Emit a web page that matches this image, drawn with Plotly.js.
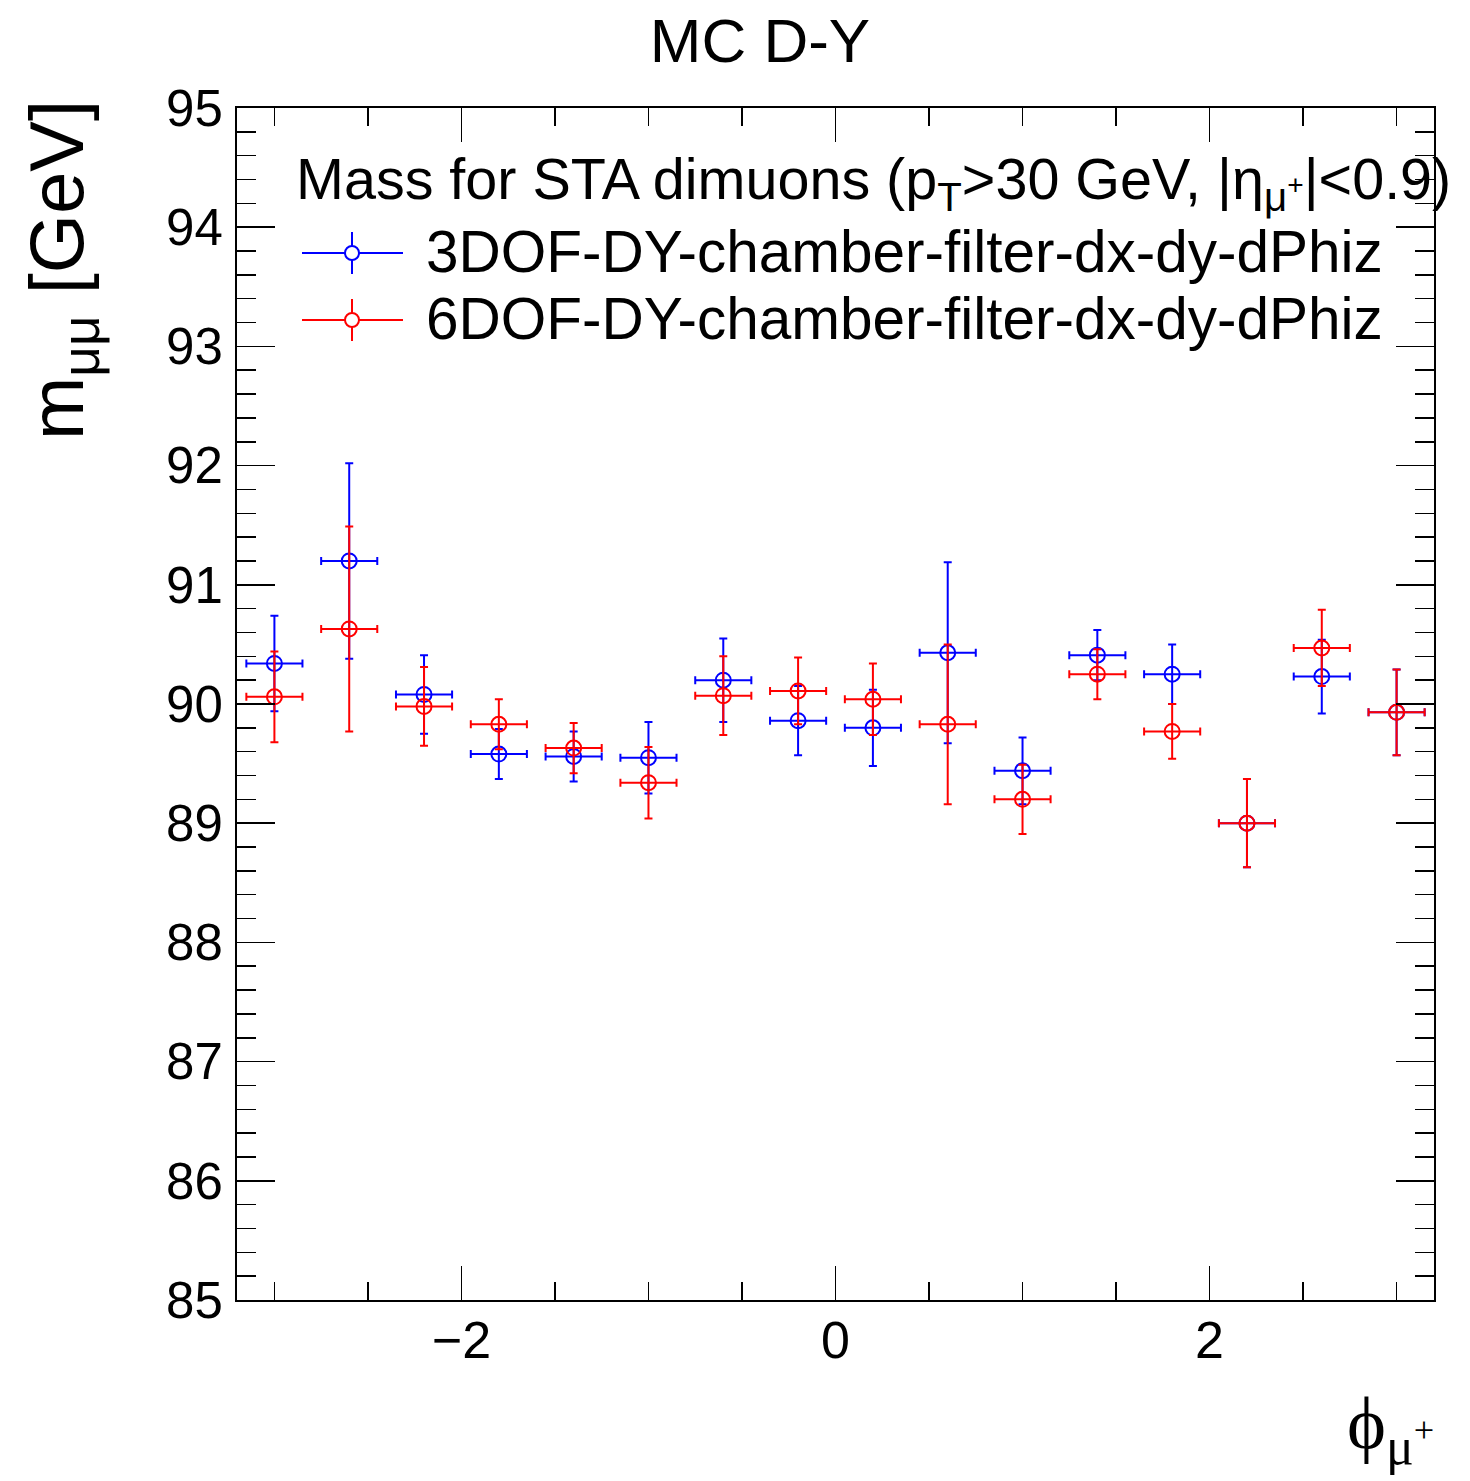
<!DOCTYPE html>
<html>
<head>
<meta charset="utf-8">
<script src="https://cdn.plot.ly/plotly-3.0.1.min.js"></script>
<style>html,body{margin:0;padding:0;background:#fff;}</style>
</head>
<body>
<div id="chart" style="width:1470px;height:1481px;"></div>
<script>
// phi bin centres
const phi = [-3.0,-2.6,-2.2,-1.8,-1.4,-1.0,-0.6,-0.2,0.2,0.6,1.0,1.4,1.8,2.2,2.6,3.0];
const phiErr = [0.15,0.15,0.15,0.15,0.15,0.15,0.15,0.15,0.15,0.15,0.15,0.15,0.15,0.15,0.15,0.15];
// 3DOF series
const mass3dof = [90.34,91.20,90.08,89.58,89.56,89.55,90.20,89.86,89.80,90.43,89.44,90.41,90.25,89.00,90.23,89.93];
const err3dof  = [0.40,0.82,0.33,0.21,0.21,0.30,0.35,0.29,0.32,0.76,0.28,0.21,0.25,0.37,0.31,0.36];
// 6DOF series
const mass6dof = [90.06,90.63,89.98,89.83,89.63,89.34,90.07,90.11,90.04,89.83,89.20,90.25,89.77,89.00,90.47,89.93];
const err6dof  = [0.38,0.86,0.33,0.21,0.21,0.30,0.33,0.28,0.30,0.67,0.29,0.21,0.23,0.37,0.32,0.36];
const seriesNames = ["3DOF-DY-chamber-filter-dx-dy-dPhiz","6DOF-DY-chamber-filter-dx-dy-dPhiz"];
const yTicks = [85,86,87,88,89,90,91,92,93,94,95];
const xTicks = [-2,0,2];

const FONT = "Liberation Sans, Arial, Helvetica, sans-serif";
const BLUE = "#0000ff", RED = "#ff0000";

function series(y, e, color, name) {
  return {
    type: "scatter", mode: "markers", x: phi, y: y, name: name, showlegend: false,
    marker: {symbol: "circle-open", size: 15, color: color, line: {width: 2, color: color}},
    error_y: {type: "data", array: e, visible: true, color: color, thickness: 2, width: 4},
    error_x: {type: "data", array: phiErr, visible: true, color: color, thickness: 2, width: 4},
    cliponaxis: false
  };
}

const data = [
  series(mass3dof, err3dof, BLUE, seriesNames[0]),
  series(mass6dof, err6dof, RED, seriesNames[1])
];

// manual legend (ROOT style)
const W = 1197, H = 1192, L = 237, B = 1300;
const px = v => (v - L) / W;
const py = v => (B - v) / H;
const legRows = [253, 320];
const legColors = [BLUE, RED];
const shapes = [];
const annotations = [];
legRows.forEach((r, i) => {
  shapes.push({type: "line", xref: "paper", yref: "paper", x0: px(302), x1: px(403), y0: py(r), y1: py(r), line: {color: legColors[i], width: 2}});
  shapes.push({type: "line", xref: "paper", yref: "paper", x0: px(352), x1: px(352), y0: py(r - 21), y1: py(r + 21), line: {color: legColors[i], width: 2}});
  shapes.push({type: "circle", xref: "paper", yref: "paper", xsizemode: "pixel", ysizemode: "pixel",
    xanchor: px(352), yanchor: py(r), x0: -7, x1: 7, y0: -7, y1: 7,
    fillcolor: "white", line: {color: legColors[i], width: 2}});
  annotations.push({xref: "paper", yref: "paper", x: px(424), y: py(r - 2), xanchor: "left", yanchor: "middle",
    text: seriesNames[i], showarrow: false, font: {family: FONT, size: 58.5, color: "black"}});
});
annotations.push({xref: "paper", yref: "paper", x: px(294), y: py(184), xanchor: "left", yanchor: "middle",
  text: "Mass for STA dimuons (p<sub>T</sub>>30 GeV, |η<sub>μ<sup>+</sup></sub>|<0.9)",
  showarrow: false, font: {family: FONT, size: 57.5, color: "black"}});
// axis titles
annotations.push({xref: "paper", yref: "paper", x: px(1436), y: py(1428), xanchor: "right", yanchor: "middle",
  text: "\u03D5<sub>μ<sup>+</sup></sub>", showarrow: false, font: {family: "Liberation Serif, DejaVu Serif, Times New Roman, serif", size: 74, color: "black"}});
annotations.push({xref: "paper", yref: "paper", x: px(62), y: py(98), xanchor: "center", yanchor: "top",
  textangle: -90, text: "m<sub>μμ</sub> [GeV]", showarrow: false, font: {family: FONT, size: 76, color: "black"}});

const layout = {
  width: 1470, height: 1481,
  margin: {l: 237, r: 36, t: 108, b: 181, pad: 0},
  paper_bgcolor: "white", plot_bgcolor: "white",
  font: {family: FONT, color: "black"},
  title: {text: "MC D-Y", x: 760/1470, xref: "container", xanchor: "center", y: 1 - 40/1481, yref: "container", yanchor: "middle",
    font: {family: FONT, size: 62, color: "black"}},
  showlegend: false,
  xaxis: {
    range: [-3.2, 3.2], showgrid: false, zeroline: false,
    showline: true, linecolor: "black", linewidth: 2, mirror: "allticks",
    ticks: "inside", ticklen: 34, tickwidth: 1.5, tickcolor: "black",
    tickmode: "array", tickvals: xTicks, ticktext: xTicks.map(v => v < 0 ? "\u2212" + Math.abs(v) : String(v)),
    minor: {dtick: 0.5, tick0: 0, ticks: "inside", ticklen: 18, tickwidth: 1.5, tickcolor: "black", showgrid: false},
    tickfont: {family: FONT, size: 52, color: "black"}, ticklabelstandoff: -6
  },
  yaxis: {
    range: [85, 95], showgrid: false, zeroline: false,
    showline: true, linecolor: "black", linewidth: 2, mirror: "allticks",
    ticks: "inside", ticklen: 38, tickwidth: 1.5, tickcolor: "black",
    tickmode: "array", tickvals: yTicks, ticktext: yTicks.map(String),
    minor: {dtick: 0.2, tick0: 85, ticks: "inside", ticklen: 19, tickwidth: 1.5, tickcolor: "black", showgrid: false},
    tickfont: {family: FONT, size: 51, color: "black"}, ticklabelstandoff: 2
  },
  shapes: shapes,
  annotations: annotations
};

Plotly.newPlot("chart", data, layout, {staticPlot: true, displayModeBar: false});
</script>
</body>
</html>
